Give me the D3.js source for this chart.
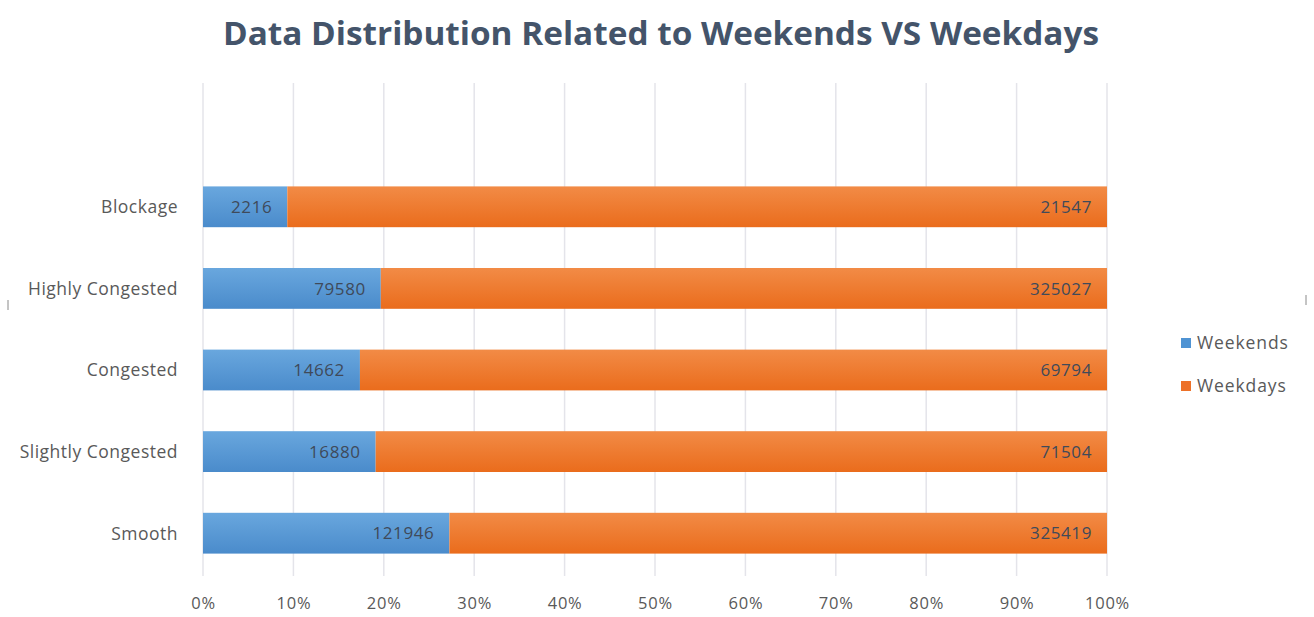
<!DOCTYPE html>
<html>
<head>
<meta charset="utf-8">
<script src="https://cdn.jsdelivr.net/npm/d3@7"></script>
<style>
  html, body { margin: 0; padding: 0; background: #ffffff; }
  svg { display: block; }
</style>
</head>
<body>
<svg id="chart" width="1314" height="617"></svg>
<script>
// Traffic state categories, top to bottom
const categories = ["Blockage", "Highly Congested", "Congested", "Slightly Congested", "Smooth"];
// Record counts per category
const weekends = [2216, 79580, 14662, 16880, 121946];
const weekdays = [21547, 325027, 69794, 71504, 325419];
const seriesNames = ["Weekends", "Weekdays"];
const tickLabels = ["0%", "10%", "20%", "30%", "40%", "50%", "60%", "70%", "80%", "90%", "100%"];

const svg = d3.select("#chart");
const font = "'Open Sans', 'Liberation Sans', sans-serif";

const plot = { left: 203, right: 1107, top: 166, bottom: 574, gridTop: 83, gridBottom: 576 };

const rows = categories.map((c, i) => ({ cat: c, Weekends: weekends[i], Weekdays: weekdays[i] }));
const stack = d3.stack().keys(seriesNames).offset(d3.stackOffsetExpand);
const layers = stack(rows);

const x = d3.scaleLinear().domain([0, 1]).range([plot.left, plot.right]);
const y = d3.scaleBand().domain(categories).range([plot.top, plot.bottom]).paddingInner(0.5).paddingOuter(0.25);

// Gradients for the bar fills
const defs = svg.append("defs");
const grads = [
  { id: "gBlue", top: "#69a7de", bottom: "#4a8bcb" },
  { id: "gOrange", top: "#f28b46", bottom: "#ea6c1c" }
];
grads.forEach(g => {
  const lg = defs.append("linearGradient").attr("id", g.id).attr("x1", 0).attr("y1", 0).attr("x2", 0).attr("y2", 1);
  lg.append("stop").attr("offset", "0%").attr("stop-color", g.top);
  lg.append("stop").attr("offset", "100%").attr("stop-color", g.bottom);
});
const fills = { Weekends: "url(#gBlue)", Weekdays: "url(#gOrange)" };
const swatch = { Weekends: "#4f93d3", Weekdays: "#ed7128" };

// Title
svg.append("text")
  .attr("x", 661).attr("y", 45)
  .attr("text-anchor", "middle")
  .attr("font-family", font)
  .attr("font-weight", 700)
  .attr("font-size", 33)
  .attr("textLength", 876)
  .attr("lengthAdjust", "spacingAndGlyphs")
  .attr("fill", "#44546a")
  .text("Data Distribution Related to Weekends VS Weekdays");

// Vertical gridlines
const ticks = d3.range(0, 1.0001, 0.1);
svg.append("g").selectAll("line").data(ticks).join("line")
  .attr("x1", d => x(d)).attr("x2", d => x(d))
  .attr("y1", plot.gridTop).attr("y2", plot.gridBottom)
  .attr("stroke", "#e4e4ea").attr("stroke-width", 1.5);

// Bars
const barG = svg.append("g");
layers.forEach(layer => {
  barG.append("g").selectAll("rect").data(layer).join("rect")
    .attr("x", d => x(d[0]))
    .attr("width", d => x(d[1]) - x(d[0]))
    .attr("y", d => y(d.data.cat))
    .attr("height", y.bandwidth())
    .attr("fill", fills[layer.key]);
});

// Value labels, placed at the inside end of each segment
layers.forEach(layer => {
  barG.append("g").selectAll("text").data(layer).join("text")
    .attr("x", d => x(d[1]) - 15)
    .attr("y", d => y(d.data.cat) + y.bandwidth() / 2)
    .attr("dy", "0.36em")
    .attr("text-anchor", "end")
    .attr("font-family", font)
    .attr("font-size", 17)
    .attr("letter-spacing", 0.6)
    .attr("fill", "#3f4a5a")
    .text(d => d.data[layer.key]);
});

// Category axis labels
svg.append("g").selectAll("text").data(categories).join("text")
  .attr("x", 178)
  .attr("y", d => y(d) + y.bandwidth() / 2)
  .attr("dy", "0.36em")
  .attr("text-anchor", "end")
  .attr("font-family", font)
  .attr("font-size", 17.5)
  .attr("letter-spacing", 0.5)
  .attr("fill", "#595959")
  .text(d => d);

// Percentage axis labels
const xAxis = d3.axisBottom(x).tickValues(ticks).tickFormat((d, i) => tickLabels[i]).tickSize(0);
const axG = svg.append("g").attr("transform", `translate(0, ${plot.gridBottom + 18})`).call(xAxis);
axG.select(".domain").remove();
axG.selectAll("text")
  .attr("font-family", font)
  .attr("font-size", 16.5)
  .attr("letter-spacing", 0.8)
  .attr("fill", "#595959");

// Legend
const leg = svg.append("g").attr("transform", "translate(1181, 343)");
seriesNames.forEach((s, i) => {
  const g = leg.append("g").attr("transform", `translate(0, ${i * 43})`);
  g.append("rect").attr("x", 0).attr("y", -5).attr("width", 10).attr("height", 10).attr("fill", swatch[s]);
  g.append("text").attr("x", 16).attr("y", 0).attr("dy", "0.36em")
    .attr("font-family", font).attr("font-size", 17.5).attr("letter-spacing", 0.9)
    .attr("fill", "#595959").text(s);
});

// Small chart-frame marks at the edges
svg.append("line").attr("x1", 8).attr("x2", 8).attr("y1", 300).attr("y2", 310).attr("stroke", "#8a8a8a");
svg.append("line").attr("x1", 1306).attr("x2", 1306).attr("y1", 295).attr("y2", 305).attr("stroke", "#8a8a8a");
</script>
</body>
</html>
